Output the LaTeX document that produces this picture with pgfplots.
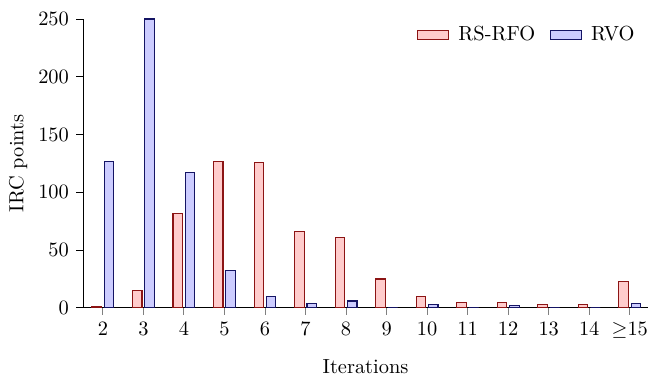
\documentclass[border=0pt]{standalone}
\usepackage{pgfplots}
\pgfplotsset{compat=1.18}
\definecolor{rfofill}{RGB}{255,204,204}
\definecolor{rfoline}{RGB}{140,20,20}
\definecolor{rvofill}{RGB}{204,204,255}
\definecolor{rvoline}{RGB}{20,20,100}
\begin{document}
\begin{tikzpicture}
\begin{axis}[
  scale only axis, width=276.9pt, height=141.6pt,
  ybar=1.4pt, bar width=4.65pt,
  xmin=-0.49, xmax=13.45, ymin=0, ymax=250,
  enlarge y limits=false,
  axis lines=left, axis line style={-, black, line width=0.5pt},
  xtick={0,1,2,3,4,5,6,7,8,9,10,11,12,13},
  xticklabels={2,3,4,5,6,7,8,9,10,11,12,13,14,${\geq}15$},
  ytick={0,50,100,150,200,250},
  tick align=outside, major tick length=3.4pt,
  xtick style={gray, line width=0.5pt},
  ytick style={black, line width=0.4pt},
  xlabel={Iterations}, ylabel={IRC points},
  xlabel style={at={(axis description cs:0.5,-0.204)}, anchor=center},
  ylabel style={at={(axis description cs:-0.115,0.5)}, anchor=center},
  legend columns=2,
  legend style={at={(0.995,1.004)}, anchor=north east, draw=none, fill=none,
    /tikz/every odd column/.append style={column sep=2.5pt},
    /tikz/every even column/.append style={column sep=5pt}},
  legend image code/.code={\draw[#1, ybar=0pt] (0cm,-0.075cm) rectangle (0.54cm,0.085cm);},
  clip=false,
]
\addplot[draw=rfoline, fill=rfofill, line width=0.55pt] coordinates {
 (0,1) (1,15) (2,82) (3,127) (4,126) (5,66) (6,61) (7,25) (8,10) (9,5) (10,5) (11,3) (12,3) (13,23)};
\addplot[draw=rvoline, fill=rvofill, line width=0.55pt] coordinates {
 (0,127) (1,250) (2,117) (3,32) (4,10) (5,4) (6,6) (7,0) (8,3) (9,0) (10,2) (11,0) (12,0) (13,4)};
\legend{RS-RFO, RVO}
\coordinate (O) at (rel axis cs:0,0);
\coordinate (T) at (rel axis cs:1,1);
\end{axis}
\pgfresetboundingbox
\path[use as bounding box] ([xshift=-40.7pt,yshift=-32.8pt]O) rectangle ([yshift=9.3pt]T);
\end{tikzpicture}
\end{document}
